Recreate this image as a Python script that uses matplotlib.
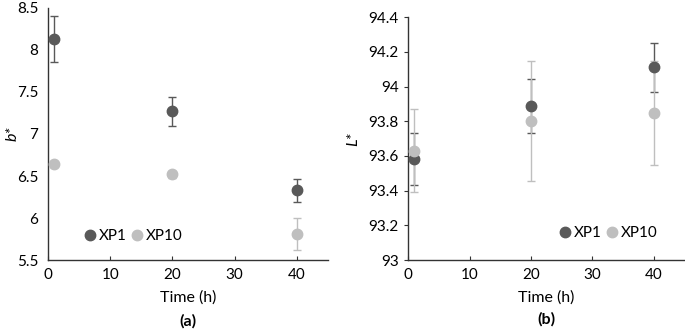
import numpy as np
import matplotlib
matplotlib.use('Agg')
from matplotlib import pyplot as plt
from matplotlib.lines import Line2D

plt.rcParams['font.family'] = ['Lato', 'DejaVu Sans']

time = [1, 20, 40]
b_xp1 = [8.13, 7.27, 6.33]
b_xp1_err = [0.27, 0.17, 0.14]
b_xp10 = [6.64, 6.52, 5.81]
b_xp10_err = [0.01, 0.04, 0.19]
l_xp1 = [93.58, 93.89, 94.11]
l_xp1_err = [0.15, 0.155, 0.14]
l_xp10 = [93.63, 93.80, 93.85]
l_xp10_err = [0.24, 0.345, 0.30]

dark = '#595959'
light = '#bfbfbf'

fig = plt.figure(figsize=(6.85, 3.3), dpi=100)
ax1 = fig.add_axes([0.070, 0.212, 0.409, 0.764])
ax2 = fig.add_axes([0.596, 0.212, 0.403, 0.736])

def panel(ax, y1, e1, y10, e10, ylim, yticks, ylabel, letter, legpos, ylab_x, ytick_len):
    ax.errorbar(time, y1, yerr=e1, fmt='o', color=dark, ecolor=dark, ms=7.5,
                capsize=3, elinewidth=1, capthick=1, zorder=3)
    ax.errorbar(time, y10, yerr=e10, fmt='o', color=light, ecolor=light, ms=7.5,
                capsize=3, elinewidth=1, capthick=1, zorder=3)
    ax.set_xlim(0, 45)
    ax.set_ylim(*ylim)
    ax.set_xticks([0, 10, 20, 30, 40])
    ax.set_yticks(yticks)
    ax.set_yticklabels([f'{v:g}' for v in yticks])
    for s in ['top', 'right']:
        ax.spines[s].set_visible(False)
    for s in ['left', 'bottom']:
        ax.spines[s].set_color('#333333')
        ax.spines[s].set_linewidth(1.0)
    ax.tick_params(axis='x', labelsize=11, color='#333333', direction='in', length=3, pad=6)
    ax.tick_params(axis='y', labelsize=11, color='#333333', direction='out', length=ytick_len,
                   pad=7 - ytick_len)
    ax.set_xlabel('Time (h)', fontsize=11.5, labelpad=6)
    ax.set_ylabel(ylabel, fontsize=11.5, fontstyle='italic')
    ax.yaxis.set_label_coords(ylab_x, 0.5)
    ax.text(0.5, -0.245, letter, transform=ax.transAxes, ha='center', va='center',
            fontsize=11.5, fontweight='bold')
    handles = [Line2D([], [], marker='o', ls='none', color=dark, ms=7.5),
               Line2D([], [], marker='o', ls='none', color=light, ms=7.5)]
    ax.legend(handles, ['XP1', 'XP10'], loc='center', bbox_to_anchor=legpos, ncol=2,
              frameon=False, fontsize=11, handletextpad=0.25, columnspacing=0.3,
              handlelength=0.7)

panel(ax1, b_xp1, b_xp1_err, b_xp10, b_xp10_err, (5.5, 8.5),
      [5.5, 6, 6.5, 7, 7.5, 8, 8.5], 'b*', '(a)', (0.306, 0.095), -0.103, 0)
panel(ax2, l_xp1, l_xp1_err, l_xp10, l_xp10_err, (93, 94.4),
      [93, 93.2, 93.4, 93.6, 93.8, 94, 94.2, 94.4], 'L*', '(b)', (0.725, 0.11), -0.174, 3)

fig.savefig('out.png', dpi=100)
